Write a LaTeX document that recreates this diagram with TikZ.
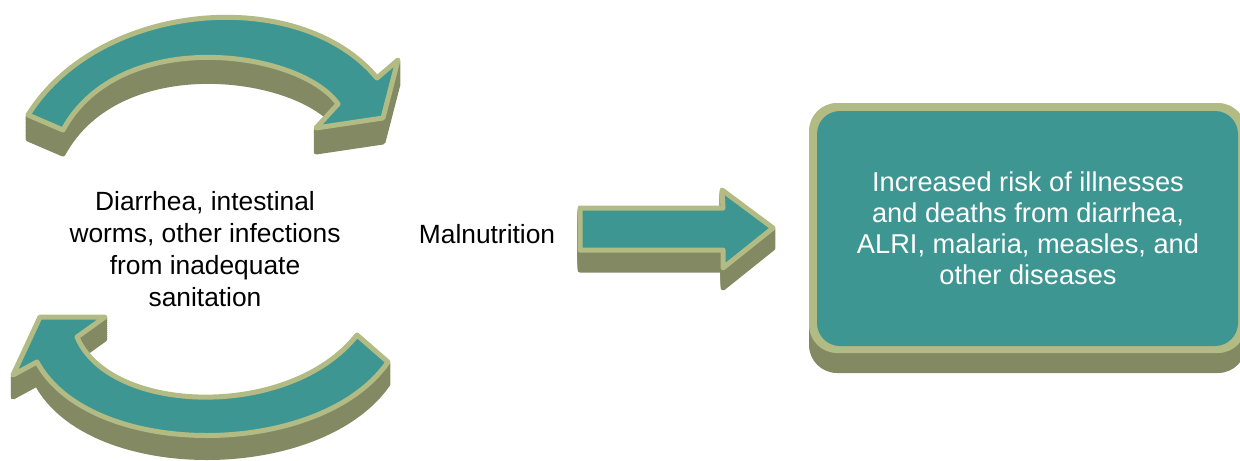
\documentclass[tikz,border=0pt]{standalone}
\usepackage{fontspec}
\setmainfont{Liberation Sans}
\usepackage{tikz}
\definecolor{arrowteal}{RGB}{62,150,147}
\definecolor{arrowrim}{RGB}{177,187,131}
\definecolor{arrowside}{RGB}{131,137,98}
\tikzset{
  topface/.style={fill=arrowteal, draw=arrowrim, line width=0.1cm, line join=round},
  sideface/.style={fill=arrowside, draw=arrowside, line width=0.1cm, line join=round},
  plaintext/.style={align=center, font=\fontsize{15}{18.1}\selectfont},
  boxtext/.style={align=center, text=white, font=\fontsize{15.5}{17.7}\selectfont},
}

\begin{document}
\begin{tikzpicture}[x=0.02cm, y=-0.02cm]
  \useasboundingbox (0,0) rectangle (1240,460);
  \clip (0,0) rectangle (1240,460);
  % upper curved arrow
  \foreach \d in {24,22,...,2}
    \fill[sideface, shift={(0,\d)}] (28,115) .. controls (100,0) and (300,-15) .. (377,78)
      -- (398,60) -- (383,118) -- (316,128) -- (338,104)
      .. controls (300,50) and (120,25) .. (63,130) -- cycle;
  \draw[topface] (28,115) .. controls (100,0) and (300,-15) .. (377,78)
      -- (398,60) -- (383,118) -- (316,128) -- (338,104)
      .. controls (300,50) and (120,25) .. (63,130) -- cycle;
  % lower curved arrow
  \foreach \d in {22,20,...,2}
    \fill[sideface, shift={(0,\d)}] (40,317) -- (105,317) -- (77,337)
      .. controls (110,415) and (290,420) .. (357,335) -- (388,362)
      .. controls (320,460) and (90,460) .. (37,362) -- (13,375) -- cycle;
  \draw[topface] (40,317) -- (105,317) -- (77,337)
      .. controls (110,415) and (290,420) .. (357,335) -- (388,362)
      .. controls (320,460) and (90,460) .. (37,362) -- (13,375) -- cycle;
  % straight arrow
  \foreach \d in {20,18,...,2}
    \fill[sideface, shift={(0,\d)}] (580,208) -- (723,208) -- (722,190) -- (773,228)
      -- (723,268) -- (723,250) -- (580,250) -- cycle;
  \draw[topface] (580,208) -- (723,208) -- (722,190) -- (773,228)
      -- (723,268) -- (723,250) -- (580,250) -- cycle;
  % outcome box
  \fill[arrowside, rounded corners=0.56cm] (809,123) rectangle (1246,373);
  \fill[arrowrim, rounded corners=0.56cm] (809,103) rectangle (1246,353);
  \fill[arrowteal, rounded corners=0.46cm] (817,111) rectangle (1238,346);

  \node[plaintext] (causes) at (205,249) {Diarrhea, intestinal\\worms, other infections\\from inadequate\\sanitation};
  \node[plaintext, anchor=base] (malnutrition) at (487,243) {Malnutrition};
  \node[boxtext] (risk) at (1028,228) {Increased risk of illnesses\\and deaths from diarrhea,\\ALRI, malaria, measles, and\\other diseases};
\end{tikzpicture}
\end{document}
